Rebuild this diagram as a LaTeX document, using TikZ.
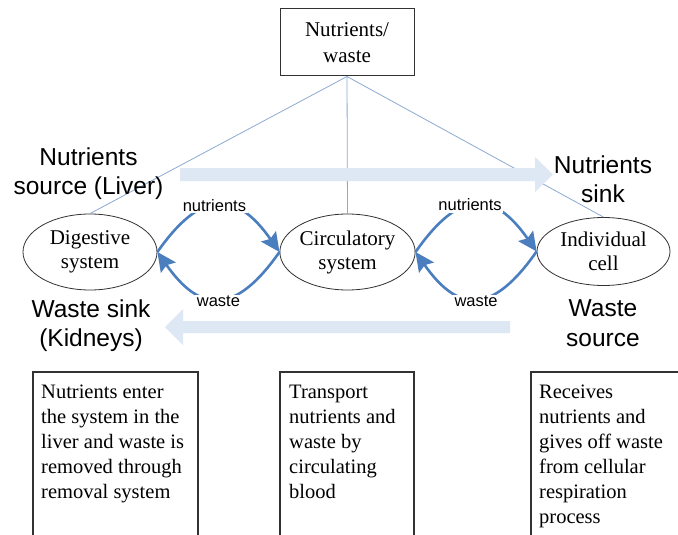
\documentclass[tikz,border=0pt]{standalone}
\usepackage{fontspec}
\setmainfont{Liberation Serif}
\setsansfont{Liberation Sans}
\usetikzlibrary{shapes.geometric,arrows.meta}
\definecolor{linkblue}{RGB}{140,170,210}
\definecolor{flowblue}{RGB}{74,126,190}
\definecolor{paleblue}{RGB}{222,231,244}
\definecolor{boxgray}{RGB}{50,50,50}

\begin{document}
\begin{tikzpicture}[x=1pt,y=-1pt,
  organ/.style={draw=boxgray, line width=0.8pt, ellipse, minimum width=134pt,
    minimum height=76pt, inner sep=0pt, align=center,
    font=\fontsize{21}{24}\selectfont},
  topbox/.style={draw=boxgray, line width=1pt, minimum width=134pt,
    minimum height=67pt, inner sep=0pt, align=center,
    font=\fontsize{21}{26}\selectfont},
  link/.style={draw=linkblue, line width=0.8pt},
  flow/.style={draw=flowblue, line width=2.6pt,
    -{Stealth[length=19pt,width=18pt,inset=3pt]}},
  flowlabel/.style={fill=white, inner sep=1.5pt,
    font=\sffamily\fontsize{16.5}{18}\selectfont},
  role/.style={align=center, inner sep=0pt, anchor=north,
    font=\sffamily\fontsize{24.5}{29.5}\selectfont},
  note/.style={align=left, inner sep=0pt, anchor=north west,
    font=\fontsize{20.5}{25}\selectfont},
  notebox/.style={draw=boxgray, line width=1.2pt},
  bigarrow/.style={fill=paleblue}
]
\clip (0,0) rectangle (678,535);
\fill[white] (0,0) rectangle (678,535);

% central hub and the three systems
\node[topbox] (top) at (347,42.5) {Nutrients/\\waste};
\node[organ] (dig) at (90,252) {Digestive\\system};
\node[organ] (circ) at (347.5,252) {Circulatory\\system};
\node[organ, minimum width=133pt, minimum height=68pt] (cell) at (603.5,251.5) {Individual\\cell};

% thin links from the hub
\draw[link] (top.south) -- (dig.north);
\draw[link] (top.south) -- (circ.north);
\draw[link] (top.south) -- (cell.north);

% broad pale direction arrows
\fill[bigarrow] (180,168) -- (535,168) -- (535,157) -- (553,174.5)
  -- (535,192) -- (535,181) -- (180,181) -- cycle;
\fill[bigarrow] (510,321) -- (183,321) -- (183,309) -- (165,327)
  -- (183,345) -- (183,333) -- (510,333) -- cycle;

% source / sink labels
\node[role] (srcN) at (88.5,147.5) {Nutrients\\source (Liver)};
\node[role] (sinkW) at (91,299.5) {Waste sink\\(Kidneys)};
\node[role] (sinkN) at (603,155.5) {Nutrients\\sink};
\node[role] (srcW) at (603,299.5) {Waste\\source};

% exchange loops
\draw[flow] (dig.east) .. controls +(-55:76) and +(-125:76) .. (circ.west)
  node[pos=0.5, flowlabel, xshift=-4pt] (n12) {nutrients};
\draw[flow] (circ.west) .. controls +(125:76) and +(55:76) .. (dig.east)
  node[pos=0.5, flowlabel, yshift=-3pt] (w21) {waste};
\draw[flow] (circ.east) .. controls +(-55:76) and +(-125:76) .. (cell.west)
  node[pos=0.5, flowlabel, xshift=-6pt] (n23) {nutrients};
\draw[flow] (cell.west) .. controls +(125:76) and +(55:76) .. (circ.east)
  node[pos=0.5, flowlabel, yshift=-3pt] (w32) {waste};

% descriptions
\node[note] (d1) at (41,384.5) {Nutrients enter\\the system in the\\liver and waste is\\removed through\\removal system};
\node[note] (d2) at (289,384.5) {Transport\\nutrients and\\waste by\\circulating\\blood};
\node[note] (d3) at (539,384.5) {Receives\\nutrients and\\gives off waste\\from cellular\\respiration\\process};
\draw[notebox] (33,545) |- (198,372) -- (198,545);
\draw[notebox] (280,545) |- (414,372) -- (414,545);
\draw[notebox] (531,545) |- (690,372);
\end{tikzpicture}
\end{document}
